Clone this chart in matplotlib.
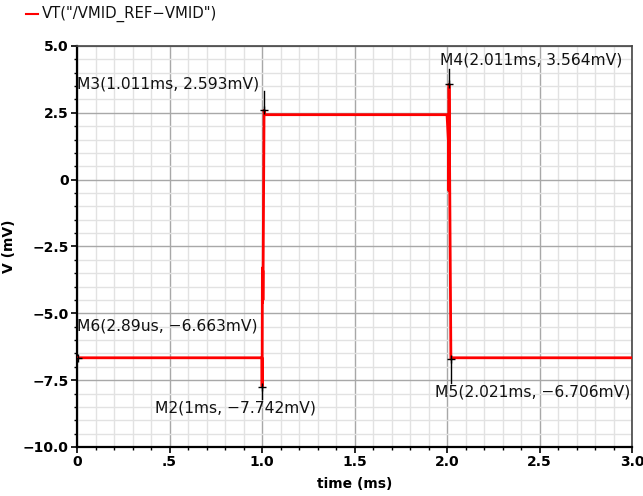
import numpy as np
import matplotlib.pyplot as plt
from matplotlib.lines import Line2D
from matplotlib.ticker import MultipleLocator, FixedLocator

## waveform of VT("/VMID_REF-VMID") (time in ms, voltage in mV)
t_ms = [0.0, 1.0, 1.0005, 1.002, 1.003, 1.004, 1.005, 1.011, 1.015,
        2.0, 2.008, 2.009, 2.010, 2.011, 2.021, 2.03, 3.0]
v_mV = [-6.663, -6.663, -7.742, -3.3, -4.6, -3.4, -4.5, 2.593, 2.43,
        2.43, 1.4, -0.4, 1.2, 3.564, -6.706, -6.663, -6.663]

# markers: name, time (ms), value (mV), time text
marker_names = ['M3', 'M4', 'M6', 'M2', 'M5']
marker_t = [1.011, 2.011, 0.00289, 1.0, 2.021]
marker_v = [2.593, 3.564, -6.663, -7.742, -6.706]
marker_ttext = ['1.011ms', '2.011ms', '2.89us', '1ms', '2.021ms']

xticks = [0, 0.5, 1.0, 1.5, 2.0, 2.5, 3.0]
xticklabels = ['0', '.5', '1.0', '1.5', '2.0', '2.5', '3.0']
yticks = [5.0, 2.5, 0, -2.5, -5.0, -7.5, -10.0]
yticklabels = ['5.0', '2.5', '0', '\u22122.5', '\u22125.0', '\u22127.5', '\u221210.0']

plt.rcParams['font.family'] = ['DejaVu Sans']

fig = plt.figure(figsize=(6.43, 4.96), dpi=100)
ax = fig.add_axes([0.1198, 0.0988, 0.8631, 0.8085])

ax.plot(t_ms, v_mV, color='#ff0000', lw=2.0, zorder=3)

ax.set_xlim(0, 3.0)
ax.set_ylim(-10.0, 5.0)
ax.xaxis.set_major_locator(FixedLocator(xticks))
ax.set_xticklabels(xticklabels)
ax.yaxis.set_major_locator(FixedLocator(yticks))
ax.set_yticklabels(yticklabels)
ax.xaxis.set_minor_locator(MultipleLocator(0.1))
ax.yaxis.set_minor_locator(MultipleLocator(0.5))

ax.grid(which='major', color='#a8a8a8', lw=1.0, zorder=1)
ax.grid(which='minor', color='#e2e2e2', lw=1.0, zorder=0)
ax.set_axisbelow(True)

for s in ['left', 'bottom']:
    ax.spines[s].set_linewidth(1.6)
for s in ['top', 'right']:
    ax.spines[s].set_linewidth(1.2)
    ax.spines[s].set_color('#444444')

ax.tick_params(which='major', direction='out', length=4, width=1.2, labelsize=10, pad=2)
ax.tick_params(which='minor', direction='out', length=2.5, width=1.0)
for lab in ax.get_xticklabels() + ax.get_yticklabels():
    lab.set_fontweight('bold')

ax.set_xlabel('time (ms)', fontsize=10, fontweight='bold')
ax.set_ylabel('V (mV)', fontsize=10, fontweight='bold')
ax.xaxis.set_label_coords(0.5, -0.075)
ax.yaxis.set_label_coords(-0.11, 0.5)

# marker crosshairs and labels
label_pos = {
    'M3': (0.0, 3.56),
    'M4': (1.962, 4.49),
    'M6': (0.0, -5.47),
    'M2': (0.42, -8.55),
    'M5': (1.935, -7.95),
}
leaders = {
    'M3': 3.3,
    'M4': 4.15,
    'M2': -8.2,
    'M5': -7.6,
}
for name, mt, mv, tt in zip(marker_names, marker_t, marker_v, marker_ttext):
    ax.plot([mt], [mv], marker='+', color='black', ms=6, mew=1.0, zorder=5)
    if name in leaders:
        ax.plot([mt, mt], [mv, leaders[name]], color='black', lw=1.0, zorder=5)
    lx, ly = label_pos[name]
    ax.text(lx, ly, '%s(%s, %smV)' % (name, tt, ('%.3f' % mv).replace('-', '\u2212')),
            fontsize=11.2, fontweight='medium', ha='left', va='center',
            color='#111111', zorder=6)

# legend entry at the top left
fig.add_artist(Line2D([26 / 643, 38 / 643], [1 - 14 / 496, 1 - 14 / 496],
                      color='#ff0000', lw=1.5))
fig.text(42 / 643, 1 - 14 / 496, 'VT("/VMID_REF\u2212VMID")', fontsize=10.7,
         va='center', ha='left', color='#111111')

fig.savefig('out.png', dpi=100)
